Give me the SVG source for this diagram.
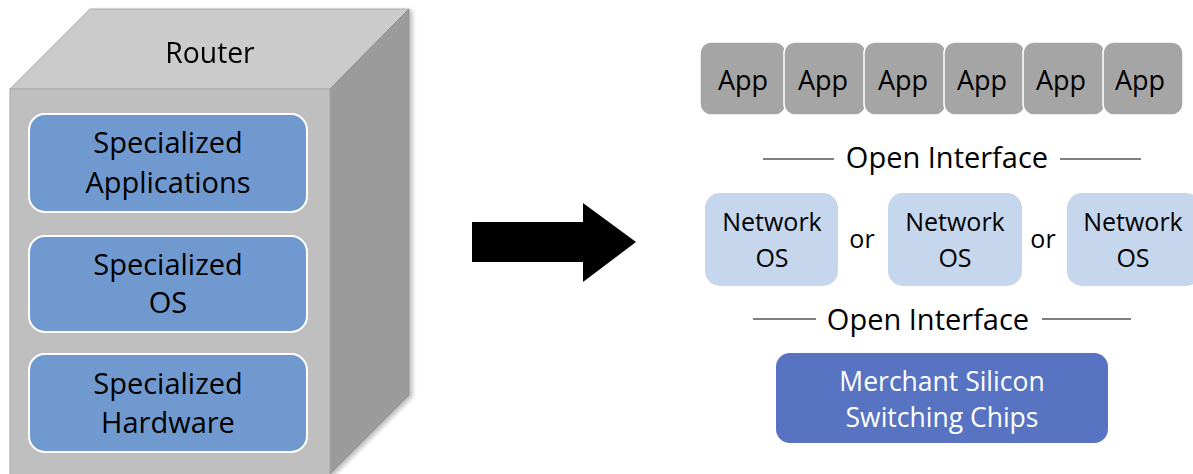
<svg xmlns="http://www.w3.org/2000/svg" width="1193" height="474" viewBox="0 0 1193 474">
  <defs>
    <filter id="soft" x="-10%" y="-10%" width="130%" height="130%">
      <feGaussianBlur in="SourceAlpha" stdDeviation="2"/>
      <feOffset dx="3" dy="2" result="b"/>
      <feFlood flood-color="#000" flood-opacity="0.25"/>
      <feComposite in2="b" operator="in"/>
      <feMerge><feMergeNode/><feMergeNode in="SourceGraphic"/></feMerge>
    </filter>
  </defs>
  <style>
    text { font-family: "Open Sans", Lato, "Liberation Sans", sans-serif; text-anchor: middle; fill: #000; }
    .layer { fill: #7099cf; stroke: #ffffff; stroke-width: 2; }
    .lbl { font-size: 29px; }
    .app { fill: #a5a5a5; stroke: #ffffff; stroke-width: 1.5; }
    .appt { font-size: 27px; }
    .nos { fill: #c5d6ed; }
    .nost { font-size: 25px; }
    .iface { font-size: 29px; }
    .chip { font-size: 26.5px; fill: #ffffff; }
    .rule { stroke: #000; stroke-width: 1.2; }
  </style>

  <!-- Router drawn as a box in perspective -->
  <g id="router" filter="url(#soft)">
    <polygon points="10,89 90,9 409,9 330,89" fill="#cbcbcb" stroke="#aaaaaa" stroke-width="1"/>
    <polygon points="330,89 409,9 409,395 330,474" fill="#9b9b9b" stroke="#8e8e8e" stroke-width="1"/>
    <rect x="10" y="89" width="320" height="390" fill="#bfbfbf" stroke="#aaaaaa" stroke-width="1"/>
    <text x="210" y="63" style="font-size:28.3px">Router</text>
  </g>

  <g id="specialized-applications">
    <rect class="layer" x="29" y="114" width="278" height="98" rx="16"/>
    <text class="lbl" x="168" y="153">Specialized</text>
    <text class="lbl" x="168" y="193">Applications</text>
  </g>
  <g id="specialized-os">
    <rect class="layer" x="29" y="236" width="278" height="96" rx="16"/>
    <text class="lbl" x="168" y="275">Specialized</text>
    <text class="lbl" x="168" y="313">OS</text>
  </g>
  <g id="specialized-hardware">
    <rect class="layer" x="29" y="354" width="278" height="98" rx="16"/>
    <text class="lbl" x="168" y="394">Specialized</text>
    <text class="lbl" x="168" y="433">Hardware</text>
  </g>

  <!-- transition arrow -->
  <g id="connectors">
    <polygon points="472,222 583,222 583,203 636,242 583,282 583,262 472,262" fill="#000"/>
  </g>

  <!-- application row -->
  <g id="apps">
    <g id="app-1"><rect class="app" x="700" y="42" width="86" height="73" rx="11"/><text class="appt" x="743" y="90">App</text></g>
    <g id="app-2"><rect class="app" x="784" y="42" width="82" height="73" rx="11"/><text class="appt" x="823" y="90">App</text></g>
    <g id="app-3"><rect class="app" x="864" y="42" width="82" height="73" rx="11"/><text class="appt" x="903" y="90">App</text></g>
    <g id="app-4"><rect class="app" x="944" y="42" width="81" height="73" rx="11"/><text class="appt" x="982" y="90">App</text></g>
    <g id="app-5"><rect class="app" x="1023" y="42" width="82" height="73" rx="11"/><text class="appt" x="1061" y="90">App</text></g>
    <g id="app-6"><rect class="app" x="1103" y="42" width="80" height="73" rx="11"/><text class="appt" x="1140" y="90">App</text></g>
  </g>

  <g id="open-interface-top">
    <line class="rule" x1="763" y1="159" x2="834" y2="159"/>
    <text class="iface" x="947" y="168">Open Interface</text>
    <line class="rule" x1="1060" y1="159" x2="1141" y2="159"/>
  </g>

  <g id="network-os-1">
    <rect class="nos" x="705" y="193" width="133" height="93" rx="15"/>
    <text class="nost" x="772" y="231">Network</text>
    <text class="nost" x="772" y="267">OS</text>
  </g>
  <text class="nost" x="862" y="248">or</text>
  <g id="network-os-2">
    <rect class="nos" x="888" y="193" width="134" height="93" rx="15"/>
    <text class="nost" x="955" y="231">Network</text>
    <text class="nost" x="955" y="267">OS</text>
  </g>
  <text class="nost" x="1043" y="248">or</text>
  <g id="network-os-3">
    <rect class="nos" x="1067" y="193" width="134" height="93" rx="15"/>
    <text class="nost" x="1133" y="231">Network</text>
    <text class="nost" x="1133" y="267">OS</text>
  </g>

  <g id="open-interface-bottom">
    <line class="rule" x1="753" y1="319" x2="816" y2="319"/>
    <text class="iface" x="928" y="330">Open Interface</text>
    <line class="rule" x1="1042" y1="319" x2="1131" y2="319"/>
  </g>

  <g id="merchant-silicon">
    <rect x="776" y="353" width="332" height="90" rx="14" fill="#5773c2"/>
    <text class="chip" x="942" y="391">Merchant Silicon</text>
    <text class="chip" x="942" y="427">Switching Chips</text>
  </g>
</svg>
